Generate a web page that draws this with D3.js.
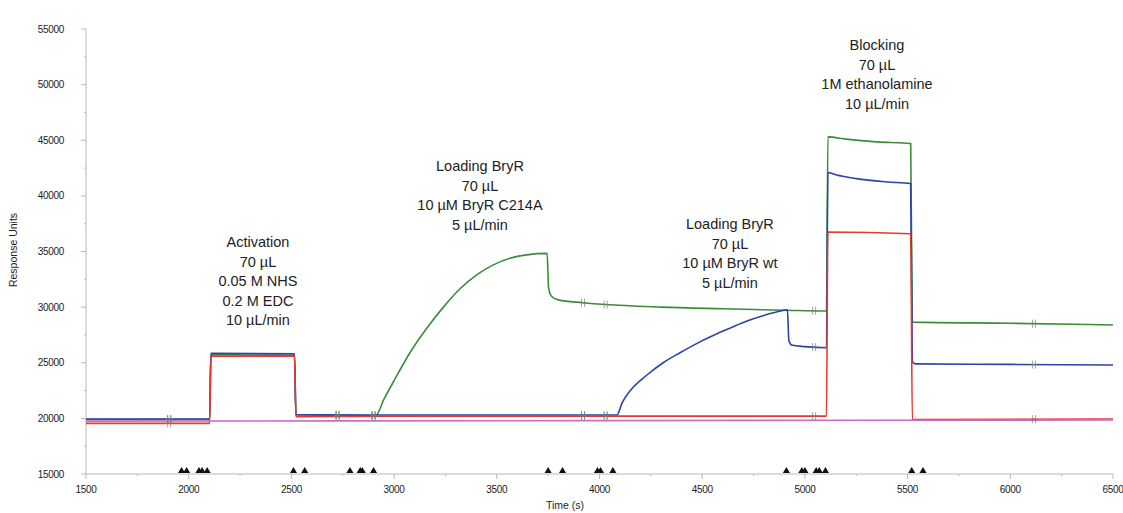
<!DOCTYPE html>
<html>
<head>
<meta charset="utf-8">
<script src="https://cdn.jsdelivr.net/npm/d3@7"></script>
<style>
  body { margin: 0; background: #fff; }
  svg text { font-family: Arial, "Liberation Sans", sans-serif; fill: #222; }
</style>
</head>
<body>
<div id="chart"></div>
<script>
// sensorgram data, time (s) vs response units
const xTicks = [1500, 2000, 2500, 3000, 3500, 4000, 4500, 5000, 5500, 6000, 6500];
const yTicks = [15000, 20000, 25000, 30000, 35000, 40000, 45000, 50000, 55000];

const greenSeries = [[1500,19900],[2102,19900],[2108,25750],[2300,25700],[2515,25650],[2522,20300],[2910,20250],
  [2950,21700],[3000,23400],[3077,25900],[3159,28100],[3240,30000],[3321,31650],[3402,32900],[3483,33800],
  [3564,34400],[3645,34700],[3745,34830],[3752,31800],[3765,31000],[3800,30650],[3920,30400],[4030,30230],
  [4300,30000],[4600,29850],[4900,29720],[5105,29650],[5112,45300],[5200,45100],[5350,44850],[5515,44700],
  [5523,28650],[6000,28550],[6500,28400]];

const blueSeries = [[1500,19950],[2102,19950],[2108,25850],[2515,25800],[2522,20350],[2905,20300],[4085,20300],
  [4110,21400],[4150,22500],[4231,23900],[4310,25000],[4392,25900],[4470,26700],[4553,27450],[4640,28150],
  [4718,28750],[4800,29250],[4870,29600],[4915,29750],[4922,27000],[4935,26600],[5000,26450],[5105,26350],
  [5112,42100],[5150,41900],[5250,41550],[5400,41250],[5515,41100],[5523,25100],[5540,24900],[6000,24850],
  [6500,24800]];

const redSeries = [[1500,19550],[2102,19550],[2108,25600],[2515,25600],[2522,20150],[3000,20200],[4000,20200],
  [5105,20200],[5112,36750],[5515,36600],[5523,19900],[6500,19950]];

const pinkSeries = [[1500,19750],[4000,19800],[6500,19850]];

// report points (grey crosses)
const reportTimes = [1905, 2725, 2900, 3920, 4030, 5045, 6115];
// injection markers on the time axis
const injectTimes = [1965, 1990, 2050, 2065, 2090, 2510, 2565, 2785, 2835, 2845, 2900, 3750, 3820,
  3990, 4005, 4065, 4910, 4985, 5000, 5055, 5070, 5100, 5520, 5575];

const notes = [
  {t: 2337, ru: 35845, lines: ['Activation', '70 µL', '0.05 M NHS', '0.2 M EDC', '10 µL/min']},
  {t: 3418, ru: 42670, lines: ['Loading BryR', '70 µL', '10 µM BryR C214A', '5 µL/min']},
  {t: 4635, ru: 37460, lines: ['Loading BryR', '70 µL', '10 µM BryR wt', '5 µL/min']},
  {t: 5351, ru: 53540, lines: ['Blocking', '70 µL', '1M ethanolamine', '10 µL/min']}
];

const series = [
  {name: 'green', color: '#3a8c3a', data: greenSeries},
  {name: 'blue', color: '#2d43a6', data: blueSeries},
  {name: 'red', color: '#e53a2e', data: redSeries},
  {name: 'pink', color: '#c96cc6', data: pinkSeries}
];

const width = 1123, height = 513;
const svg = d3.select('#chart').append('svg')
  .attr('width', width).attr('height', height);

const x = d3.scaleLinear().domain([1500, 6500]).range([86, 1113]);
const y = d3.scaleLinear().domain([15000, 55000]).range([474, 29]);
const axisColor = '#b8b8b8';

// y axis
svg.append('line').attr('x1', x(1500)).attr('x2', x(1500)).attr('y1', y(55000)).attr('y2', y(15000))
  .attr('stroke', axisColor);
svg.append('g').selectAll('line')
  .data(d3.range(15000, 55001, 2500))
  .enter().append('line')
  .attr('x1', d => x(1500) - (d % 5000 === 0 ? 5 : 2)).attr('x2', x(1500))
  .attr('y1', d => y(d)).attr('y2', d => y(d))
  .attr('stroke', axisColor);
svg.append('g').selectAll('text')
  .data(yTicks)
  .enter().append('text')
  .attr('x', 64).attr('y', d => y(d)).attr('dy', '0.35em')
  .attr('text-anchor', 'end').attr('font-size', 10).attr('letter-spacing', -0.3)
  .text(d => d);

// x axis
svg.append('line').attr('x1', x(1500)).attr('x2', x(6500)).attr('y1', y(15000)).attr('y2', y(15000))
  .attr('stroke', axisColor);
svg.append('g').selectAll('line')
  .data(d3.range(1500, 6501, 250))
  .enter().append('line')
  .attr('x1', d => x(d)).attr('x2', d => x(d))
  .attr('y1', y(15000)).attr('y2', d => y(15000) + (d % 500 === 0 ? 5 : 2))
  .attr('stroke', axisColor);
svg.append('g').selectAll('text')
  .data(xTicks)
  .enter().append('text')
  .attr('x', d => x(d)).attr('y', 493)
  .attr('text-anchor', 'middle').attr('font-size', 10).attr('letter-spacing', -0.3)
  .text(d => d);

svg.append('text').attr('x', 565).attr('y', 509).attr('text-anchor', 'middle')
  .attr('font-size', 10.5).text('Time (s)');
svg.append('text').attr('transform', 'translate(17,250) rotate(-90)').attr('text-anchor', 'middle')
  .attr('font-size', 10.5).text('Response Units');

// curves
const line = d3.line().x(d => x(d[0])).y(d => y(d[1])).curve(d3.curveMonotoneX);
svg.append('g').selectAll('path')
  .data(series)
  .enter().append('path')
  .attr('d', d => line(d.data))
  .attr('fill', 'none')
  .attr('stroke', d => d.color)
  .attr('stroke-width', 1.6);

// report point crosses on the first three curves
const valueAt = (data, t) => {
  const i = d3.bisector(d => d[0]).left(data, t);
  if (i <= 0) return data[0][1];
  if (i >= data.length) return data[data.length - 1][1];
  const a = data[i - 1], b = data[i];
  return a[1] + (b[1] - a[1]) * (t - a[0]) / (b[0] - a[0]);
};
const crosses = [];
series.slice(0, 3).forEach(s => reportTimes.forEach(t => crosses.push([t, valueAt(s.data, t)])));
svg.append('g').selectAll('path')
  .data(crosses)
  .enter().append('path')
  .attr('transform', d => `translate(${x(d[0])},${y(d[1])})`)
  .attr('d', 'M-3,0H3M-1.5,-4V4M1.5,-4V4')
  .attr('stroke', '#777').attr('stroke-opacity', 0.7).attr('stroke-width', 1);

// injection triangles
svg.append('g').selectAll('path')
  .data(injectTimes)
  .enter().append('path')
  .attr('transform', d => `translate(${x(d)},${y(15000) - 3})`)
  .attr('d', d3.symbol().type(d3.symbolTriangle).size(22))
  .attr('fill', '#111');

// annotations
notes.forEach(n => {
  svg.append('text')
    .attr('x', x(n.t)).attr('y', y(n.ru))
    .attr('text-anchor', 'middle').attr('font-size', 14.5)
    .selectAll('tspan')
    .data(n.lines)
    .enter().append('tspan')
    .attr('x', x(n.t))
    .attr('dy', (d, i) => i === 0 ? '0.35em' : 19.5)
    .text(d => d);
});
</script>
</body>
</html>
